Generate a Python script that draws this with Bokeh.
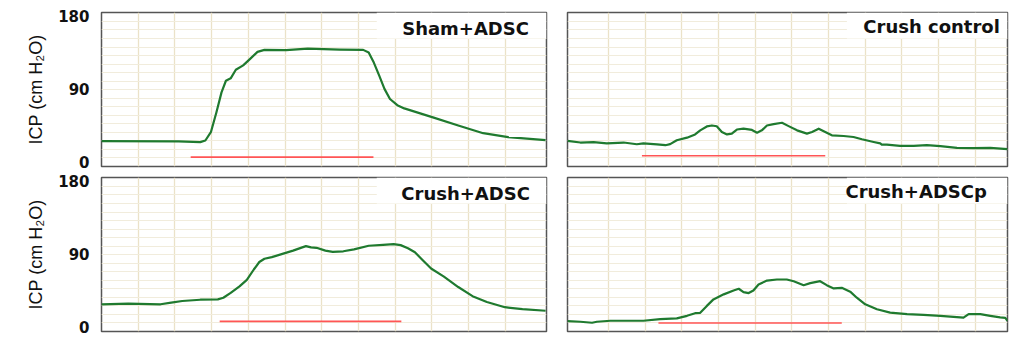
from bokeh.plotting import figure
from bokeh.models import Range1d, FixedTicker, Grid, BoxAnnotation, Label, LinearAxis
from bokeh.layouts import column, row
from bokeh.embed import file_html
from bokeh.resources import INLINE

# ---- data (time in grid divisions, ICP in cm H2O) ----
titles = ["Sham+ADSC", "Crush control", "Crush+ADSC", "Crush+ADSCp"]
y_ticks = [0, 90, 180]
y_label = "ICP (cm H\u2082O)"

sham_x = [0, 2.10, 2.69, 2.83, 2.98, 3.13, 3.27, 3.39, 3.52, 3.66, 3.86, 4.05, 4.25, 4.44,
          5.03, 5.62, 6.49, 7.13, 7.28, 7.42, 7.57, 7.71, 7.86, 8.06, 8.25, 9.03, 9.72,
          10.40, 11.08, 12.10]
sham_y = [25.7, 25.5, 24.5, 26.5, 36.7, 61, 85.7, 100, 103, 113.5, 119, 127, 135.5, 138,
          137.6, 139.6, 138.4, 138, 134.7, 122.4, 106, 90, 77.6, 70, 66, 55, 45,
          35.5, 30.6, 27]

ctrl_x = [-0.12, 0.23, 0.59, 0.95, 1.41, 1.77, 1.95, 2.32, 2.55, 2.68, 2.86, 3.14, 3.36,
          3.5, 3.68, 3.82, 3.95, 4.09, 4.23, 4.36, 4.5, 4.68, 4.91, 5.05, 5.18, 5.32, 5.5,
          5.73, 5.91, 6.14, 6.41, 6.55, 6.73, 6.91, 7.09, 7.41, 7.68, 7.91, 8.23, 8.41,
          8.45, 8.59, 8.95, 9.32, 9.68, 10.05, 10.5, 10.95, 11.41, 11.88]
ctrl_y = [26, 24, 24.6, 23, 24, 21.9, 23, 21.8, 20.7, 22, 26.8, 30, 34, 39, 43.8, 45, 44,
          37, 34, 35, 40, 41, 39.5, 36.1, 39, 45, 46.7, 48.3, 44.2, 39, 35, 37, 41, 37,
          32.9, 32, 30.8, 28, 24.7, 23, 21.5, 21.5, 19.9, 19.9, 20.7, 19.5, 17.5, 17.2,
          17.5, 15.8]

cadsc_x = [0, 0.73, 1.61, 1.90, 2.20, 2.69, 3.17, 3.32, 3.52, 3.76, 3.96, 4.15, 4.30, 4.44,
           4.64, 4.93, 5.22, 5.47, 5.57, 5.71, 5.86, 6.10, 6.30, 6.59, 6.88, 7.28, 7.67,
           7.96, 8.15, 8.35, 8.54, 8.74, 8.98, 9.33, 9.72, 10.11, 10.50, 10.99, 11.47, 12.10]
cadsc_y = [28, 28.8, 28, 30, 32, 33.6, 34, 36, 42, 50, 58, 70.8, 80, 84, 86, 90, 94, 98,
           99.6, 98, 97.5, 94, 92.4, 93.2, 95.6, 100, 101.2, 102, 100.8, 97, 92, 82.8, 72,
           62, 49.2, 38, 30.8, 24.4, 22, 20]

cadscp_x = [-0.12, 0.23, 0.55, 0.68, 1.05, 1.5, 1.95, 2.41, 2.86, 3.14, 3.36, 3.5, 3.68,
            3.86, 4.14, 4.41, 4.55, 4.68, 4.82, 4.95, 5.09, 5.32, 5.59, 5.86, 6.05, 6.32,
            6.5, 6.77, 6.95, 7.14, 7.36, 7.59, 7.77, 8.0, 8.32, 8.68, 9.14, 9.59, 10.05,
            10.5, 10.68, 10.82, 11.14, 11.41, 11.68, 11.82, 11.88]
cadscp_y = [7.3, 6.5, 5.3, 6.5, 7.7, 7.7, 7.7, 9.7, 10.6, 13.8, 17, 17.5, 26, 34, 40.2, 45,
            47.1, 43, 41.8, 45, 52.4, 57.2, 58.5, 58.5, 56.4, 51.5, 54, 56.4, 51.5, 47.5,
            48.3, 43.5, 36.1, 28, 21.9, 17.8, 15.8, 15, 13.8, 12.2, 11.5, 15.8, 15.8, 13.8,
            11.8, 11.2, 7.5]

stim_start = [2.43, 1.91, 3.22, 2.36]
stim_end = [7.41, 6.91, 8.17, 7.36]
stim_level = [6, 7.7, 7, 5]

series_x = [sham_x, ctrl_x, cadsc_x, cadscp_x]
series_y = [sham_y, ctrl_y, cadsc_y, cadscp_y]

GREEN = "#1f7a2f"
RED = "#ff5555"
VGRID = "#ebe2c8"
HGRID = "#f1ecdc"
FRAME = "#555555"


def make_panel(i):
    left = i % 2 == 0
    top = i < 2
    if left:
        width, mbl, mbr = 556, 101, 10
        xr = Range1d(0, 12.125)
    else:
        width, mbl, mbr = 453, 11, 2
        xr = Range1d(-0.12, 11.88)
    if top:
        height, mbt, mbb = 172, 12, 6
    else:
        height, mbt, mbb = 165, 5, 6
    p = figure(width=width, height=height, x_range=xr, y_range=Range1d(-5.5, 184),
               output_backend="svg", toolbar_location=None,
               x_axis_location=None, y_axis_location=None,
               min_border_left=mbl, min_border_right=mbr,
               min_border_top=mbt, min_border_bottom=mbb)
    p.center = []
    p.outline_line_color = FRAME
    p.outline_line_width = 1.5
    p.background_fill_color = "white"
    p.border_fill_color = "white"

    p.add_layout(Grid(dimension=0, ticker=FixedTicker(ticks=list(range(1, 12))),
                      grid_line_color=VGRID, grid_line_width=1.3))
    p.add_layout(Grid(dimension=1, ticker=FixedTicker(ticks=[5 + 10.5 * k for k in range(17)]),
                      grid_line_color=HGRID, grid_line_width=1))

    if left:
        ax = LinearAxis(ticker=FixedTicker(ticks=y_ticks), axis_label=y_label)
        ax.axis_line_color = None
        ax.major_tick_line_color = None
        ax.minor_tick_line_color = None
        ax.major_label_standoff = 6
        ax.major_label_text_font = "DejaVu Sans"
        ax.major_label_text_font_style = "bold"
        ax.major_label_text_font_size = "15px"
        ax.major_label_text_color = "#111111"
        ax.axis_label_standoff = 9
        ax.axis_label_text_font = "Liberation Sans"
        ax.axis_label_text_font_style = "normal"
        ax.axis_label_text_font_size = "18px"
        ax.axis_label_text_color = "#111111"
        p.add_layout(ax, "left")

    p.line(series_x[i], series_y[i], line_color=GREEN, line_width=2.2, line_join="round")
    p.segment(x0=[stim_start[i]], y0=[stim_level[i]], x1=[stim_end[i]], y1=[stim_level[i]],
              line_color=RED, line_width=1.6)

    p.add_layout(BoxAnnotation(left=7.5, bottom=152, fill_color="white", fill_alpha=1.0,
                               line_color=None))
    if i == 3:
        lab = Label(x=7.46, y=167, text=titles[i], text_align="left", text_baseline="middle")
    elif i == 1:
        lab = Label(x=9.81, y=167, text=titles[i], text_align="center", text_baseline="middle")
    else:
        lab = Label(x=9.92, y=164.5, text=titles[i], text_align="center", text_baseline="middle")
    lab.text_font = "DejaVu Sans"
    lab.text_font_style = "bold"
    lab.text_font_size = "18px"
    lab.text_color = "#111111"
    p.add_layout(lab)
    return p


panels = [make_panel(i) for i in range(4)]
layout = column(row(panels[0], panels[1]), row(panels[2], panels[3]))

open("out.html", "w").write(file_html(layout, INLINE))
